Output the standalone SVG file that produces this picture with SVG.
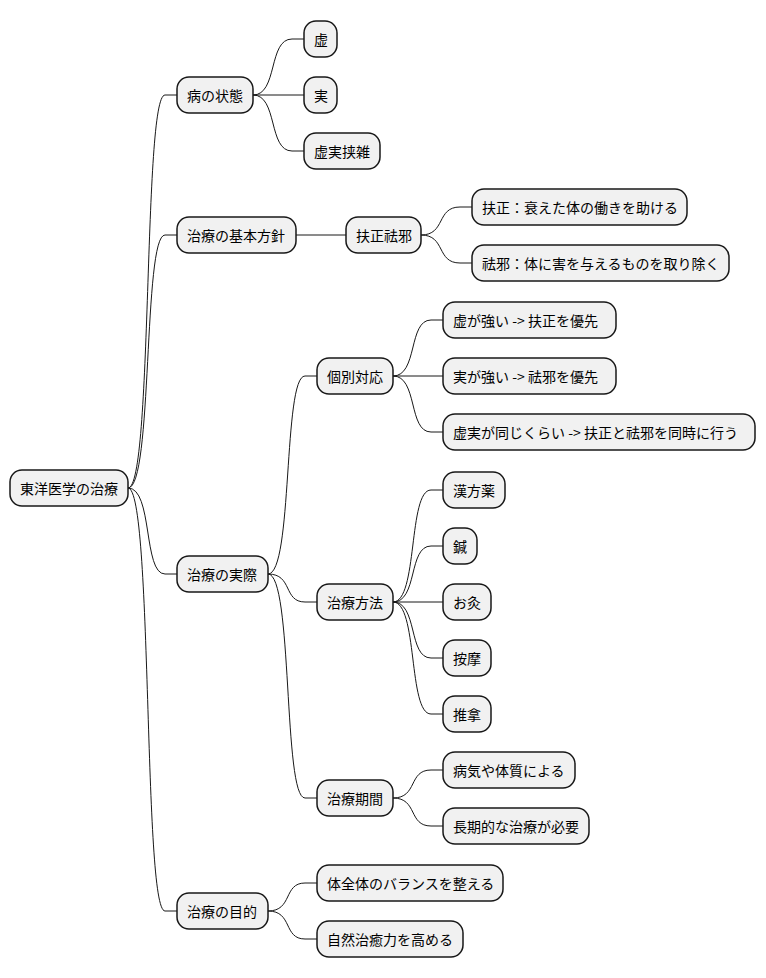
<svg xmlns="http://www.w3.org/2000/svg" width="766" height="978" viewBox="0 0 766 978">
<style>
.n rect{fill:#F1F1F1;stroke:#181818;stroke-width:1.5}
.n text{font-family:"Noto Sans CJK JP","Noto Sans",sans-serif;font-size:14px;fill:#000;dominant-baseline:central}
#c path{fill:none;stroke:#181818;stroke-width:1}
</style>
<rect width="766" height="978" fill="#fff"/>
<g id="c">
<path d="M128,488 C153,488 143,95 165,95 L177,95"/>
<path d="M128,488 C153,488 143,235 165,235 L177,235"/>
<path d="M128,488 C153,488 143,574 165,574 L177,574"/>
<path d="M128,488 C153,488 143,911 165,911 L177,911"/>
<path d="M253,95 C278,95 268,39 292,39 L304,39"/>
<path d="M253,95 L304,95"/>
<path d="M253,95 C278,95 268,151 292,151 L304,151"/>
<path d="M296,235 L346,235"/>
<path d="M421,235 C446,235 436,207 460,207 L472,207"/>
<path d="M421,235 C446,235 436,263 460,263 L472,263"/>
<path d="M268,574 C293,574 283,376 305,376 L317,376"/>
<path d="M268,574 C293,574 283,602 305,602 L317,602"/>
<path d="M268,574 C293,574 283,798 305,798 L317,798"/>
<path d="M393,376 C418,376 408,320 431,320 L443,320"/>
<path d="M393,376 L443,376"/>
<path d="M393,376 C418,376 408,432 431,432 L443,432"/>
<path d="M393,602 C418,602 408,490 431,490 L443,490"/>
<path d="M393,602 C418,602 408,546 431,546 L443,546"/>
<path d="M393,602 L443,602"/>
<path d="M393,602 C418,602 408,658 431,658 L443,658"/>
<path d="M393,602 C418,602 408,714 431,714 L443,714"/>
<path d="M393,798 C418,798 408,770 431,770 L443,770"/>
<path d="M393,798 C418,798 408,826 431,826 L443,826"/>
<path d="M268,911 C293,911 283,883 305,883 L317,883"/>
<path d="M268,911 C293,911 283,939 305,939 L317,939"/>
</g>
<g id="root" class="n"><rect x="10" y="470" width="118" height="36" rx="12"/><text x="20" y="488">東洋医学の治療</text></g>
<g id="n1" class="n"><rect x="177" y="77" width="76" height="36" rx="12"/><text x="187" y="95">病の状態</text></g>
<g id="n2" class="n"><rect x="177" y="217" width="119" height="36" rx="12"/><text x="187" y="235">治療の基本方針</text></g>
<g id="n3" class="n"><rect x="177" y="556" width="91" height="36" rx="12"/><text x="187" y="574">治療の実際</text></g>
<g id="n4" class="n"><rect x="177" y="893" width="91" height="36" rx="12"/><text x="187" y="911">治療の目的</text></g>
<g id="n1a" class="n"><rect x="304" y="21" width="33" height="36" rx="12"/><text x="314" y="39">虚</text></g>
<g id="n1b" class="n"><rect x="304" y="77" width="33" height="36" rx="12"/><text x="314" y="95">実</text></g>
<g id="n1c" class="n"><rect x="304" y="133" width="76" height="36" rx="12"/><text x="314" y="151">虚実挟雑</text></g>
<g id="n2a" class="n"><rect x="346" y="217" width="75" height="36" rx="12"/><text x="356" y="235">扶正祛邪</text></g>
<g id="n2a1" class="n"><rect x="472" y="189" width="215" height="36" rx="12"/><text x="482" y="207">扶正：衰えた体の働きを助ける</text></g>
<g id="n2a2" class="n"><rect x="472" y="245" width="257" height="36" rx="12"/><text x="482" y="263">祛邪：体に害を与えるものを取り除く</text></g>
<g id="n3a" class="n"><rect x="317" y="358" width="76" height="36" rx="12"/><text x="327" y="376">個別対応</text></g>
<g id="n3b" class="n"><rect x="317" y="584" width="76" height="36" rx="12"/><text x="327" y="602">治療方法</text></g>
<g id="n3c" class="n"><rect x="317" y="780" width="76" height="36" rx="12"/><text x="327" y="798">治療期間</text></g>
<g id="n3a1" class="n"><rect x="443" y="302" width="173" height="36" rx="12"/><text x="453" y="320">虚が強い -&gt; 扶正を優先</text></g>
<g id="n3a2" class="n"><rect x="443" y="358" width="173" height="36" rx="12"/><text x="453" y="376">実が強い -&gt; 祛邪を優先</text></g>
<g id="n3a3" class="n"><rect x="443" y="414" width="312" height="36" rx="12"/><text x="453" y="432">虚実が同じくらい -&gt; 扶正と祛邪を同時に行う</text></g>
<g id="n3b1" class="n"><rect x="443" y="472" width="62" height="36" rx="12"/><text x="453" y="490">漢方薬</text></g>
<g id="n3b2" class="n"><rect x="443" y="528" width="34" height="36" rx="12"/><text x="453" y="546">鍼</text></g>
<g id="n3b3" class="n"><rect x="443" y="584" width="48" height="36" rx="12"/><text x="453" y="602">お灸</text></g>
<g id="n3b4" class="n"><rect x="443" y="640" width="48" height="36" rx="12"/><text x="453" y="658">按摩</text></g>
<g id="n3b5" class="n"><rect x="443" y="696" width="48" height="36" rx="12"/><text x="453" y="714">推拿</text></g>
<g id="n3c1" class="n"><rect x="443" y="752" width="132" height="36" rx="12"/><text x="453" y="770">病気や体質による</text></g>
<g id="n3c2" class="n"><rect x="443" y="808" width="146" height="36" rx="12"/><text x="453" y="826">長期的な治療が必要</text></g>
<g id="n4a" class="n"><rect x="317" y="865" width="186" height="36" rx="12"/><text x="327" y="883">体全体のバランスを整える</text></g>
<g id="n4b" class="n"><rect x="317" y="921" width="146" height="36" rx="12"/><text x="327" y="939">自然治癒力を高める</text></g>
</svg>
